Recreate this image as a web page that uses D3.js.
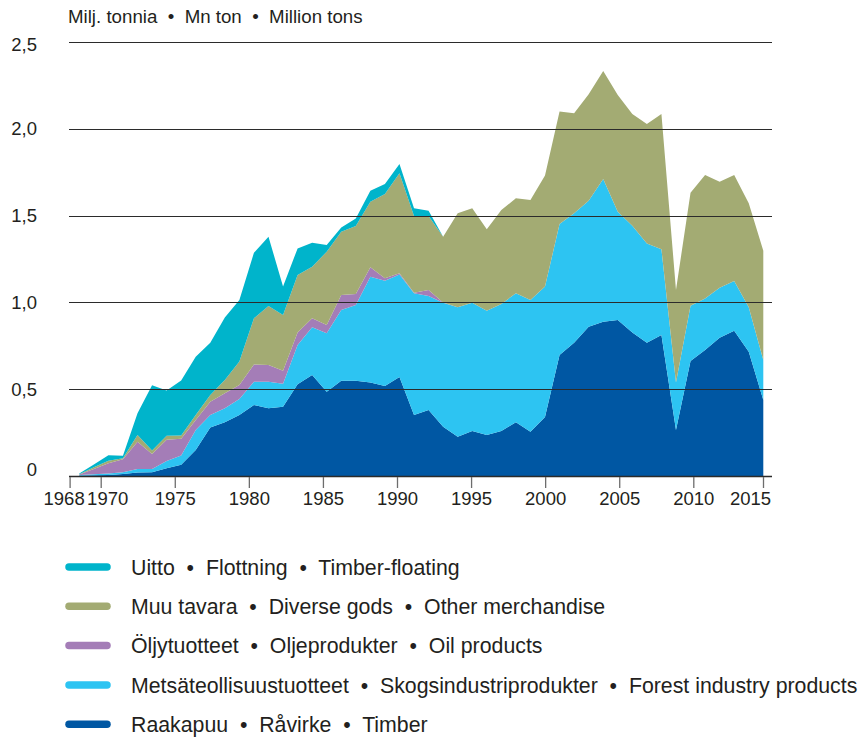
<!DOCTYPE html>
<html>
<head>
<meta charset="utf-8">
<script src="https://cdn.jsdelivr.net/npm/d3@7"></script>
<style>
  body { margin: 0; background: #fff; }
  svg text { font-family: "Liberation Sans", Arial, sans-serif; fill: #231f20; white-space: pre; }
</style>
</head>
<body>
<div id="chart"></div>
<script>
const width = 862;
const height = 738;

// Data, million tons
const years = [1968, 1969, 1970, 1971, 1972, 1973, 1974, 1975, 1976, 1977, 1978, 1979,
  1980, 1981, 1982, 1983, 1984, 1985, 1986, 1987, 1988, 1989, 1990, 1991, 1992, 1993,
  1994, 1995, 1996, 1997, 1998, 1999, 2000, 2001, 2002, 2003, 2004, 2005, 2006, 2007,
  2008, 2009, 2010, 2011, 2012, 2013, 2014, 2015];

const timber = [0.003, 0.004, 0.006, 0.012, 0.020, 0.022, 0.044, 0.065, 0.150, 0.280, 0.309, 0.351,
  0.409, 0.390, 0.399, 0.528, 0.582, 0.486, 0.549, 0.549, 0.538, 0.518, 0.570, 0.351, 0.380, 0.284,
  0.226, 0.259, 0.236, 0.259, 0.309, 0.255, 0.340, 0.697, 0.768, 0.860, 0.889, 0.899, 0.826, 0.768,
  0.812, 0.265, 0.662, 0.726, 0.797, 0.837, 0.716, 0.438];

const forestProducts = [0.003, 0.006, 0.009, 0.010, 0.020, 0.018, 0.043, 0.053, 0.115, 0.071, 0.081, 0.093,
  0.134, 0.153, 0.133, 0.227, 0.275, 0.336, 0.407, 0.436, 0.610, 0.607, 0.590, 0.701, 0.657, 0.714,
  0.746, 0.739, 0.716, 0.732, 0.743, 0.759, 0.752, 0.754, 0.745, 0.726, 0.822, 0.623, 0.616, 0.572,
  0.494, 0.273, 0.319, 0.297, 0.288, 0.286, 0.256, 0.230];

const oilProducts = [0.003, 0.030, 0.058, 0.074, 0.158, 0.087, 0.122, 0.097, 0.058, 0.077, 0.086, 0.080,
  0.100, 0.096, 0.075, 0.071, 0.051, 0.048, 0.087, 0.063, 0.054, 0.014, 0.008, 0.004, 0.034, 0.002,
  0, 0, 0, 0, 0, 0, 0, 0, 0, 0, 0, 0, 0, 0,
  0, 0, 0, 0, 0, 0, 0, 0];

const otherGoods = [0.001, 0.010, 0.015, 0.006, 0.038, 0.020, 0.023, 0.018, 0.028, 0.039, 0.077, 0.135,
  0.265, 0.340, 0.320, 0.332, 0.298, 0.422, 0.364, 0.392, 0.378, 0.485, 0.576, 0.442, 0.427, 0.378,
  0.541, 0.544, 0.469, 0.541, 0.548, 0.576, 0.639, 0.649, 0.576, 0.613, 0.622, 0.673, 0.643, 0.688,
  0.779, 0.533, 0.651, 0.711, 0.610, 0.611, 0.599, 0.630];

const floating = [0.005, 0.016, 0.031, 0.015, 0.125, 0.376, 0.260, 0.317, 0.336, 0.301, 0.360, 0.355,
  0.378, 0.399, 0.165, 0.153, 0.138, 0.039, 0.025, 0.044, 0.063, 0.058, 0.053, 0.044, 0.030, 0,
  0, 0, 0, 0, 0, 0, 0, 0, 0, 0, 0, 0, 0, 0,
  0, 0, 0, 0, 0, 0, 0, 0];

// bottom to top
const keys = ['timber', 'forestProducts', 'oilProducts', 'otherGoods', 'floating'];
const colors = ['#0057a3', '#2dc4f2', '#a47db7', '#a3ab73', '#00b4cb'];
const legendLabels = [
  'Uitto  •  Flottning  •  Timber-floating',
  'Muu tavara  •  Diverse gods  •  Other merchandise',
  'Öljytuotteet  •  Oljeprodukter  •  Oil products',
  'Metsäteollisuustuotteet  •  Skogsindustriprodukter  •  Forest industry products',
  'Raakapuu  •  Råvirke  •  Timber',
];
const legendKeys = ['floating', 'otherGoods', 'oilProducts', 'forestProducts', 'timber'];

const yTicks = [0, 0.5, 1, 1.5, 2, 2.5];
const xTicks = [1968, 1970, 1975, 1980, 1985, 1990, 1995, 2000, 2005, 2010, 2015];
const unitLabel = 'Milj. tonnia  •  Mn ton  •  Million tons';

const table = years.map((yr, i) => ({
  year: yr,
  timber: timber[i],
  forestProducts: forestProducts[i],
  oilProducts: oilProducts[i],
  otherGoods: otherGoods[i],
  floating: floating[i],
}));

const color = d3.scaleOrdinal().domain(keys).range(colors);

// Scales
const x = d3.scaleLinear().domain([1968, 2015]).range([79.3, 763.3]);
// tick positions in the original sit on a slightly different grid
const xAxisScale = d3
  .scaleLinear()
  .domain([1968, 1970, 2010, 2015])
  .range([69.6, 100.7, 693.3, 763]);
const y = d3.scaleLinear().domain([0, 2.5]).range([476, 42]);

const svg = d3
  .select('#chart')
  .append('svg')
  .attr('width', width)
  .attr('height', height)
  .attr('viewBox', '0 0 ' + width + ' ' + height);

// Areas
const series = d3.stack().keys(keys)(table);

const area = d3
  .area()
  .x((d) => x(d.data.year))
  .y0((d) => y(d[0]))
  .y1((d) => y(d[1]));

svg
  .append('g')
  .selectAll('path')
  .data(series)
  .join('path')
  .attr('fill', (d) => color(d.key))
  .attr('d', area);

// Gridlines (drawn over the areas)
const comma = d3.formatLocale({ decimal: ',', thousands: ' ', grouping: [3], currency: ['', ''] }).format('.1f');

svg
  .append('g')
  .selectAll('line')
  .data(yTicks)
  .join('line')
  .attr('x1', 69)
  .attr('x2', 772)
  .attr('y1', (d) => Math.round(y(d)) + 0.5)
  .attr('y2', (d) => Math.round(y(d)) + 0.5)
  .attr('stroke', '#2b2b2b')
  .attr('stroke-width', (d) => (d === 0 ? 1.6 : 1.1));

svg
  .append('g')
  .selectAll('text')
  .data(yTicks)
  .join('text')
  .attr('x', 37)
  .attr('y', (d) => y(d) + (d === 0 ? -6 : d === 2.5 ? 3 : 0))
  .attr('dy', '0.35em')
  .attr('text-anchor', 'end')
  .style('font-size', '18.5px')
  .text((d) => (d === 0 ? '0' : comma(d)));

// X axis
const xAxis = svg
  .append('g')
  .attr('transform', 'translate(0,' + 477 + ')')
  .call(
    d3
      .axisBottom(xAxisScale)
      .tickValues(xTicks)
      .tickSize(11)
      .tickPadding(4)
      .tickFormat(d3.format('d'))
  );

xAxis.select('.domain').remove();
xAxis.selectAll('.tick line').attr('stroke', '#6d6d6d').attr('stroke-width', 1.3);
xAxis
  .selectAll('.tick text')
  .style('font-size', '18.5px')
  .style('font-family', '"Liberation Sans", Arial, sans-serif')
  .attr('fill', '#231f20')
  .attr('dx', (d) => (d === 1968 ? -6 : d === 1970 ? 6.5 : d === 2015 ? -13 : 0));

// Unit label
svg
  .append('text')
  .attr('x', 68)
  .attr('y', 23)
  .style('font-size', '18.7px')
  .text(unitLabel);

// Legend
const legend = svg
  .append('g')
  .selectAll('g')
  .data(legendKeys)
  .join('g')
  .attr('transform', (d, i) => 'translate(0,' + (567 + i * 39.3) + ')');

legend
  .append('line')
  .attr('x1', 69)
  .attr('x2', 107)
  .attr('stroke', (d) => color(d))
  .attr('stroke-width', 7.5)
  .attr('stroke-linecap', 'round');

legend
  .append('text')
  .attr('x', 131)
  .attr('dy', '0.36em')
  .style('font-size', '21.3px')
  .text((d, i) => legendLabels[i]);
</script>
</body>
</html>
